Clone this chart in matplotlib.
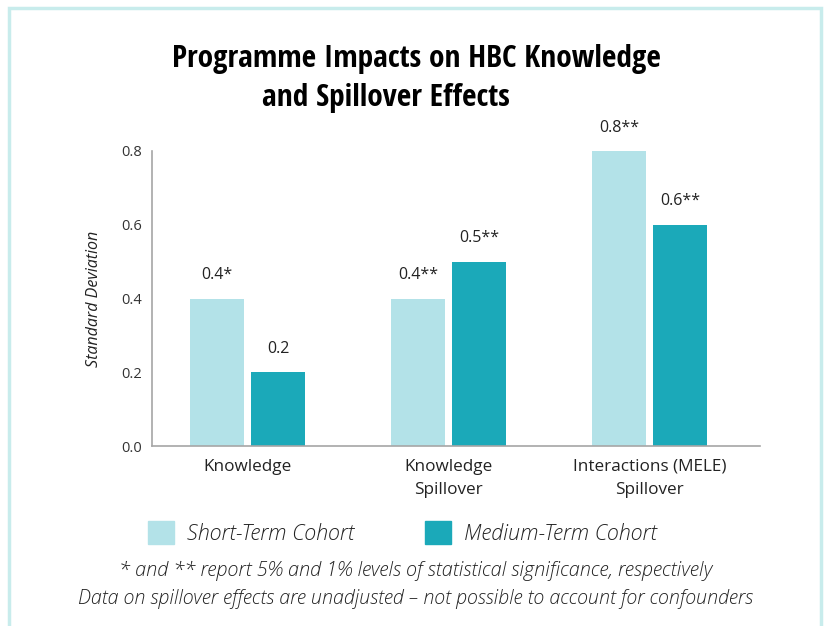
import numpy as np
import matplotlib
matplotlib.use('Agg')
from matplotlib import pyplot as plt
from matplotlib.patches import Patch, Rectangle

# chart data
categories = ['Knowledge', 'Knowledge\nSpillover', 'Interactions (MELE)\nSpillover']
short_term = [0.4, 0.4, 0.8]
medium_term = [0.2, 0.5, 0.6]
short_labels = ['0.4*', '0.4**', '0.8**']
medium_labels = ['0.2', '0.5**', '0.6**']
series_names = ['Short-Term Cohort', 'Medium-Term Cohort']
yticks = [0.0, 0.2, 0.4, 0.6, 0.8]

c_short = '#b3e2e8'
c_medium = '#1ba9b9'
body_font = ['Open Sans', 'DejaVu Sans']
title_font = ['Open Sans Condensed', 'DejaVu Sans']

fig = plt.figure(figsize=(8.27, 6.26), dpi=100)
ax = fig.add_axes([0.1838, 0.2875, 0.7352, 0.4713])

x = np.arange(len(categories))
w = 0.269
off = 0.152
b1 = ax.bar(x - off, short_term, w, color=c_short)
b2 = ax.bar(x + off, medium_term, w, color=c_medium)

for bars, labs in [(b1, short_labels), (b2, medium_labels)]:
    for b, lab in zip(bars, labs):
        ax.annotate(lab, (b.get_x() + b.get_width() / 2, b.get_height()),
                    xytext=(0, 11), textcoords='offset points',
                    ha='center', va='bottom', fontsize=11.5, color='#222222',
                    family=body_font)

ax.set_xlim(-0.475, 2.55)
ax.set_ylim(0, 0.8)
ax.set_yticks(yticks)
ax.set_yticklabels(['%.1f' % t for t in yticks], family=body_font, fontsize=10.5, color='#333333')
ax.set_xticks(x)
ax.set_xticklabels(categories, family=body_font, fontsize=12.3, color='#222222', linespacing=1.6)
ax.tick_params(axis='both', length=0)
ax.tick_params(axis='x', pad=9)
ax.tick_params(axis='y', pad=7)
ax.set_ylabel('Standard Deviation', family=body_font, style='italic', fontsize=11.5,
              color='#222222', labelpad=14)
for s in ['top', 'right']:
    ax.spines[s].set_visible(False)
for s in ['left', 'bottom']:
    ax.spines[s].set_color('#a6a6a6')
    ax.spines[s].set_linewidth(1.2)

# title, two lines not centred on each other
fig.text(0.503, 0.905, 'Programme Impacts on HBC Knowledge', ha='center', va='center',
         fontsize=22.6, fontweight='bold', family=title_font)
fig.text(0.467, 0.843, 'and Spillover Effects', ha='center', va='center',
         fontsize=22.6, fontweight='bold', family=title_font)

handles = [Patch(color=c_short), Patch(color=c_medium)]
leg = fig.legend(handles, series_names, loc='center', bbox_to_anchor=(0.4867, 0.1486),
                 ncol=2, frameon=False, handlelength=1.2, handleheight=1.25,
                 handletextpad=0.6, columnspacing=3.3,
                 prop={'family': body_font, 'style': 'italic', 'weight': 300, 'size': 15.5})
for t in leg.get_texts():
    t.set_color('#222222')

fig.text(0.503, 0.088, '* and ** report 5% and 1% levels of statistical significance, respectively',
         ha='center', va='center', fontsize=14.3, style='italic', weight=300, family=body_font,
         color='#222222')
fig.text(0.503, 0.043, 'Data on spillover effects are unadjusted \u2013 not possible to account for confounders',
         ha='center', va='center', fontsize=14.1, style='italic', weight=300, family=body_font,
         color='#222222')

# light teal frame around the graphic
fig.patches.append(Rectangle((0.011, -0.05), 0.982, 1.038, transform=fig.transFigure,
                             fill=False, edgecolor='#c8ecec', linewidth=2.5))

fig.savefig('out.png', dpi=100)
